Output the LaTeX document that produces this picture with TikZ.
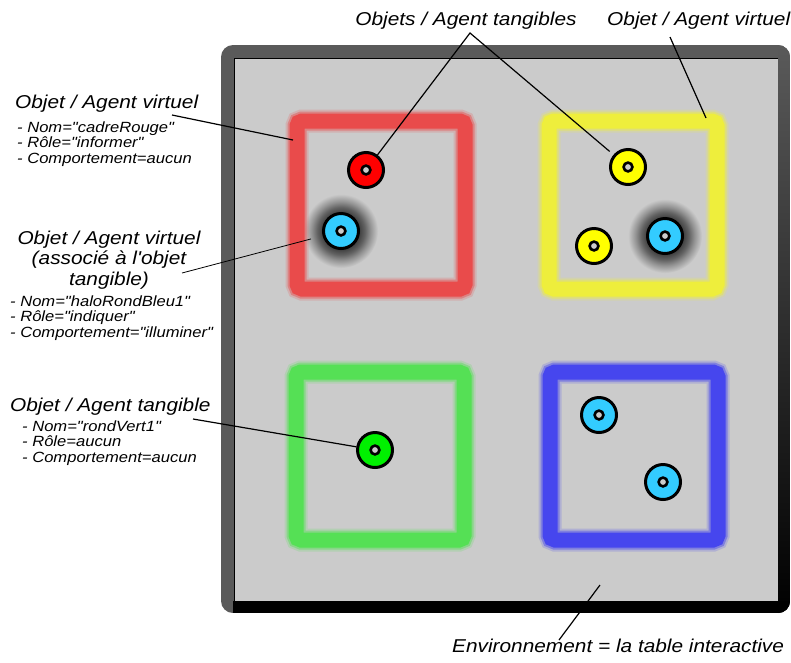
\documentclass[tikz,border=0pt]{standalone}
\usepackage{fontspec}
\newfontfamily\etiq[FakeStretch=1.12]{Liberation Sans}
\usetikzlibrary{positioning}
\definecolor{tablegris}{HTML}{CBCBCB}
\definecolor{bordgris}{HTML}{5A5A5A}
\definecolor{cadrerouge}{HTML}{E94B4B}
\definecolor{cadrejaune}{HTML}{EEEE3C}
\definecolor{cadrevert}{HTML}{55E055}
\definecolor{cadrebleu}{HTML}{4646EE}
\definecolor{jetonrouge}{HTML}{FF0000}
\definecolor{jetonjaune}{HTML}{FFFF00}
\definecolor{jetonvert}{HTML}{00F000}
\definecolor{jetonbleu}{HTML}{33CCFF}
\pgfdeclareradialshading{halo}{\pgfpoint{0bp}{0bp}}{color(0bp)=(black!80); color(12bp)=(black!76); color(16bp)=(black!62); color(20bp)=(black!42); color(25bp)=(tablegris); color(50bp)=(tablegris)}
\tikzset{
  jeton/.style={circle, draw=black, line width=3pt, minimum size=35pt, inner sep=0pt,
    path picture={\draw[line width=2.6pt, fill=tablegris] (path picture bounding box.center) circle (4.4pt);}},
  titre/.style={font=\etiq\itshape\fontsize{18.6}{20.5}\selectfont, inner sep=0pt},
  attr/.style={font=\etiq\itshape\fontsize{14.8}{15.5}\selectfont, inner sep=0pt, align=left, anchor=base west},
  trait/.style={line width=1.2pt},
}
\begin{document}
\begin{tikzpicture}[x=1pt,y=-1pt]
\useasboundingbox (0,0) rectangle (791,662);
% la table
\begin{scope}
\clip[rounded corners=12pt] (221,45) rectangle (790,613);
\fill[bordgris] (221,45) rectangle (790,613);
\shade[top color=bordgris, bottom color=black] (778,45) rectangle (790,613);
\fill[black] (233,601) rectangle (790,613);
\end{scope}
\fill[tablegris] (234,58) rectangle (778,601);
\draw[line width=1pt] (234,601) -- (234,58) -- (778,58);
% halos
\coordinate (h1) at (341,231);
\coordinate (h2) at (665,236);
\shade[shading=halo] (h1) circle (37);
\shade[shading=halo] (h2) circle (37);
% cadres flous
\foreach \c/\xa/\ya in {rouge/297/121, jaune/549/121, vert/296/372, bleu/550/372}{
  \foreach \w/\o in {23/0.2, 19/0.45, 15/1}
    \draw[cadre\c, line width=\w pt, opacity=\o, rounded corners=5pt] (\xa,\ya) rectangle ++(168,168);
}
% jetons
\node[jeton, fill=jetonrouge] (rouge) at (366,170) {};
\node[jeton, fill=jetonbleu] (haloBleu1) at (h1) {};
\node[jeton, fill=jetonjaune] (jaune1) at (628,167) {};
\node[jeton, fill=jetonjaune] (jaune2) at (594,246) {};
\node[jeton, fill=jetonbleu] (haloBleu2) at (h2) {};
\node[jeton, fill=jetonvert] (rondVert) at (375,450) {};
\node[jeton, fill=jetonbleu] (bleu1) at (599,415) {};
\node[jeton, fill=jetonbleu] (bleu2) at (663,482) {};

% textes
\node[titre, anchor=base west] (virtuel) at (15,108) {Objet / Agent virtuel};
\node[attr] (virtuelAttr) at (17,163) {- Nom="cadreRouge"\\- Rôle="informer"\\- Comportement=aucun};
\node[titre, anchor=base, align=center] (associe) at (109,285) {Objet / Agent virtuel\\(associé à l'objet\\tangible)};
\node[attr] (associeAttr) at (10,337) {- Nom="haloRondBleu1"\\- Rôle="indiquer"\\- Comportement="illuminer"};
\node[titre, anchor=base west] (tangible) at (10,411) {Objet / Agent tangible};
\node[attr] (tangibleAttr) at (22,462) {- Nom="rondVert1"\\- Rôle=aucun\\- Comportement=aucun};
\node[titre, anchor=base] (tangibles) at (466,25) {Objets / Agent tangibles};
\node[titre, anchor=base west] (virtuelHaut) at (607,25) {Objet / Agent virtuel};
\node[titre, anchor=base west] (env) at (452,652) {Environnement = la table interactive};

% traits
\coordinate (a1) at (172,115);
\coordinate (bordRouge) at (293,140);
\coordinate (a2) at (182,273);
\coordinate (a3) at (193,419);
\coordinate (a4) at (470,33);
\coordinate (a5) at (670,37);
\coordinate (coinJaune) at (706,118);
\coordinate (a6) at (559,640);
\coordinate (surface) at (600,585);
\draw[trait] (a1) -- (bordRouge);
\draw[line width=0.8pt, shorten >=12pt] (a2) -- (haloBleu1);
\draw[trait] (a3) -- (rondVert);
\draw[trait, shorten >=5pt] (rouge) -- (a4) -- (jaune1);
\draw[trait] (a5) -- (coinJaune);
\draw[trait] (a6) -- (surface);
\end{tikzpicture}
\end{document}
